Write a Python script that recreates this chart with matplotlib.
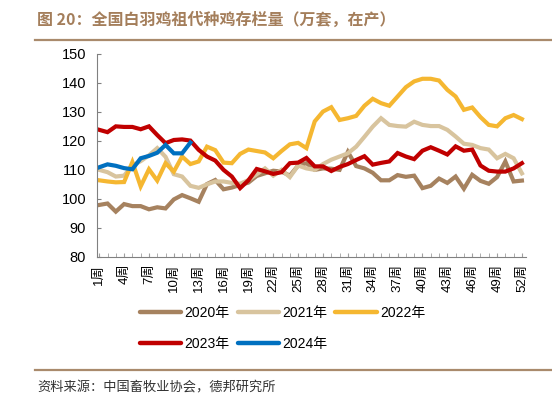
import numpy as np
import matplotlib
matplotlib.use("Agg")
import matplotlib.pyplot as plt
from matplotlib.lines import Line2D

plt.rcParams['font.family'] = ['Liberation Sans', 'Noto Sans CJK SC']

# weekly stock, 10k sets
weeks = np.arange(1, 53)
y2020 = [97.9, 98.4, 95.6, 98.2, 97.5, 97.5, 96.4, 97.1, 96.7, 99.8, 101.3, 100.2, 99.0,
         105.1, 106.5, 103.3, 103.9, 104.8, 105.6, 107.9, 108.8, 109.7, 109.4, 108.0, 111.5,
         112.3, 110.0, 110.5, 110.4, 110.0, 116.2, 111.3, 110.5, 109.0, 106.4, 106.4, 108.2,
         107.6, 108.0, 103.7, 104.5, 107.0, 105.5, 107.7, 103.5, 108.3, 106.2, 105.2, 107.5,
         112.9, 106.0, 106.3]
y2021 = [110.0, 109.2, 107.7, 108.0, 111.5, 113.0, 115.0, 117.5, 114.5, 108.5, 107.7, 104.5,
         103.8, 105.0, 106.0, 106.0, 105.5, 105.2, 106.5, 108.5, 110.5, 108.0, 110.0, 107.5,
         111.5, 110.5, 110.0, 112.0, 113.5, 114.6, 115.7, 118.0, 121.4, 124.9, 127.8, 125.5,
         125.1, 124.9, 126.6, 125.5, 125.1, 125.1, 123.8, 121.5, 119.0, 118.6, 117.5, 117.0,
         114.0, 115.5, 114.0, 108.8]
y2022 = [106.4, 106.0, 105.7, 105.8, 112.7, 104.3, 110.2, 106.3, 112.3, 109.4, 114.6, 112.0,
         112.9, 118.0, 116.8, 112.5, 112.3, 115.5, 117.0, 116.5, 116.0, 114.0, 116.5, 118.8,
         119.3, 117.5, 126.7, 130.1, 131.6, 127.2, 127.8, 128.6, 132.1, 134.5, 133.0, 132.1,
         135.3, 138.5, 140.5, 141.4, 141.4, 140.8, 137.6, 135.3, 130.7, 131.5, 128.2, 125.5,
         125.0, 127.8, 128.9, 127.5]
y2023 = [123.8, 123.0, 125.0, 124.8, 124.8, 124.0, 125.0, 122.0, 119.2, 120.3, 120.5, 120.1,
         116.9, 114.6, 113.2, 110.0, 107.7, 103.7, 106.4, 110.3, 109.5, 108.6, 109.2, 112.3,
         112.5, 114.1, 111.2, 111.2, 109.6, 111.0, 112.0, 113.4, 114.7, 111.8, 112.4, 112.9,
         115.8, 114.6, 113.7, 116.6, 117.8, 116.6, 115.3, 118.1, 116.6, 117.0, 111.5, 109.7,
         109.4, 109.4, 110.5, 112.3]
y2024 = [110.9, 111.9, 111.4, 110.6, 110.2, 114.0, 114.8, 115.9, 118.6, 115.7, 115.7, 119.4]

labels = ['2020年', '2021年', '2022年', '2023年', '2024年']
colors = ['#A6825F', '#D8C49E', '#F5B731', '#C00000', '#0070C0']
xtick_weeks = list(range(1, 53, 3))
xtick_labels = [f'{w}周' for w in xtick_weeks]

fig = plt.figure(figsize=(5.52, 4.11), dpi=100)
ax = fig.add_axes([0.176, 0.375, 0.777, 0.494])

series = [y2020, y2021, y2022, y2023, y2024]
for ys, c, lab in zip(series, colors, labels):
    ax.plot(weeks[:len(ys)], ys, color=c, lw=3.0, label=lab, solid_joinstyle='miter')

ax.set_xlim(0.75, 52.5)
ax.set_ylim(80, 150)
ax.set_yticks(np.arange(80, 151, 10))
ax.set_xticks(weeks, minor=True)
ax.set_xticks(xtick_weeks)
ax.set_xticklabels(xtick_labels, rotation=90, fontsize=9.5)
ax.tick_params(axis='y', labelsize=10.5, direction='in', length=3, color='#808080', pad=8)
ax.tick_params(axis='x', which='both', direction='in', length=3, color='#A0A0A0', pad=5)
for s in ['top', 'right']:
    ax.spines[s].set_visible(False)
for s in ['left', 'bottom']:
    ax.spines[s].set_color('#808080')
    ax.spines[s].set_linewidth(0.8)

# legend row-major order
h = [Line2D([], [], color=c, lw=3.2, solid_capstyle='round') for c in colors]
order = [0, 3, 1, 4, 2]
fig.legend([h[i] for i in order], [labels[i] for i in order], ncol=3,
           loc='upper left', bbox_to_anchor=(0.243, 0.27), frameon=False,
           fontsize=10, handlelength=3.0, handletextpad=0.2, columnspacing=0.6,
           labelspacing=1.25, borderaxespad=0)

# title, rules, source
fig.text(0.067, 0.951, '图 20：全国白羽鸡祖代种鸡存栏量（万套，在产）', fontsize=11.5,
         color='#A47E5B', fontweight='bold', va='center', family=['Noto Sans CJK SC'])
fig.add_artist(Line2D([0.064, 1.0], [0.903, 0.903], color='#A98A6C', lw=1.6))
fig.add_artist(Line2D([0.064, 1.0], [0.100, 0.100], color='#A98A6C', lw=1.6))
fig.text(0.067, 0.056, '资料来源：中国畜牧业协会，德邦研究所', fontsize=9.5,
         color='#333333', va='center', family=['Noto Sans CJK SC'])

fig.savefig('out.png', dpi=100)
